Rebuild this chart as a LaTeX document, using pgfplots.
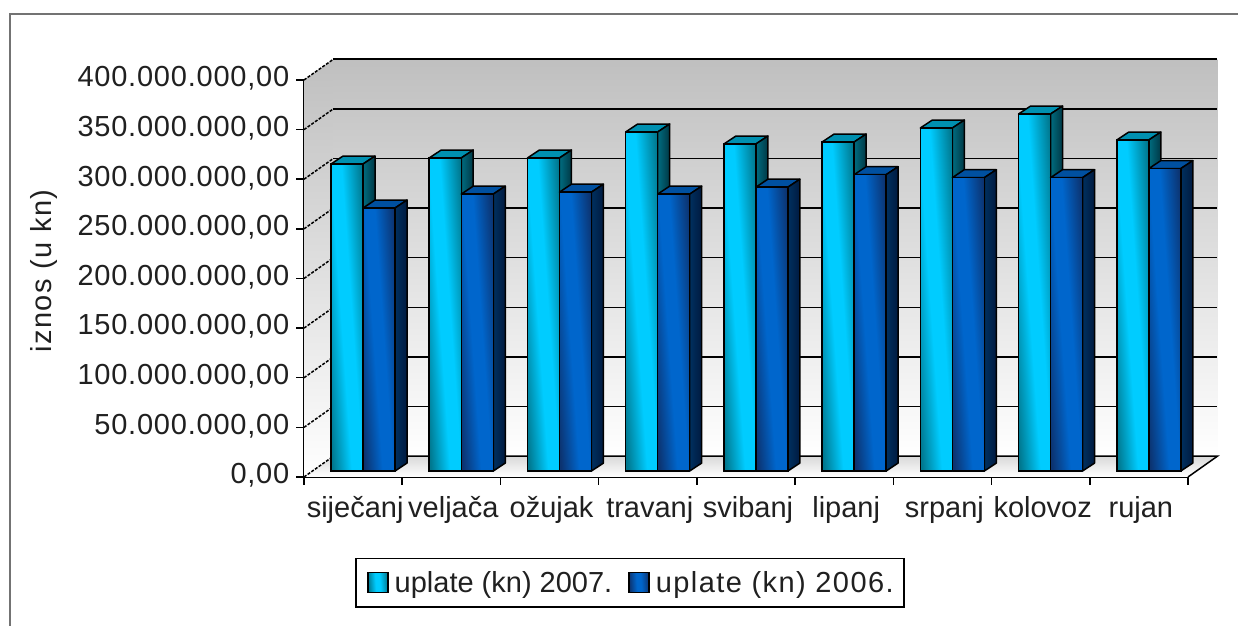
\documentclass[border=0pt]{standalone}
\usepackage{fontspec}
\setmainfont{Liberation Sans}
\usepackage{pgfplots}
\pgfplotsset{compat=1.18}
\definecolor{txt}{HTML}{202020}
\definecolor{cybr}{HTML}{00CCFF}
\definecolor{cydk}{HTML}{00788F}
\definecolor{cytop}{HTML}{0090B0}
\definecolor{cysdA}{HTML}{006C80}
\definecolor{cysdB}{HTML}{003845}
\definecolor{blbr}{HTML}{0066CC}
\definecolor{bldk}{HTML}{0C3370}
\definecolor{bltop}{HTML}{0050A0}
\definecolor{blsdA}{HTML}{00305F}
\definecolor{blsdB}{HTML}{001A40}
\pgfdeclareverticalshading{cyanbar}{100bp}{color(0bp)=(cydk);color(25bp)=(cydk);color(45bp)=(cybr);color(56bp)=(cybr);color(75bp)=(cydk);color(100bp)=(cydk)}
\pgfdeclareverticalshading{bluebar}{100bp}{color(0bp)=(bldk);color(25bp)=(bldk);color(45bp)=(blbr);color(56bp)=(blbr);color(75bp)=(bldk);color(100bp)=(bldk)}
\newcommand{\lblfont}{\fontsize{29}{34}\selectfont\color{txt}}
\newcommand{\lblfontsp}[1]{\fontsize{29}{34}\selectfont\addfontfeature{LetterSpace=#1}\color{txt}}
% x of the bar's left edge, value, top colour, side colours, front shading
\newcommand{\barfaces}[6]{%
  \pgfmathsetmacro\xl{#1}%
  \pgfmathsetmacro\xr{#1+0.326}%
  \pgfmathsetmacro\xlb{#1+0.122}%
  \pgfmathsetmacro\xrb{#1+0.448}%
  \pgfmathsetmacro\yb{#2+8}%
  \addplot[forget plot,draw=black,line width=1.5pt,fill=#3,line join=round]
    coordinates {(\xl,#2) (\xr,#2) (\xrb,\yb) (\xlb,\yb)} --cycle;
  \addplot[forget plot,draw=black,line width=1.5pt,top color=#4,bottom color=#5,shading angle=90,line join=round]
    coordinates {(\xr,0) (\xr,#2) (\xrb,\yb) (\xrb,8)} --cycle;
  \addplot[forget plot,draw=black,line width=1.5pt,shade,shading=#6,shading angle=94,line join=round]
    coordinates {(\xl,0) (\xl,#2) (\xr,#2) (\xr,0)} --cycle;
}
\begin{document}
\begin{tikzpicture}[x=1pt,y=1pt]
\path[use as bounding box,fill=white] (0,0) rectangle (1238,626);
\draw[color=black!55,line width=2.5pt] (1238,612) -- (10,612) -- (10,0);
\begin{axis}[
  at={(304pt,149pt)},anchor=south west,
  scale only axis,width=884pt,height=397pt,
  xmin=0,xmax=9,ymin=0,ymax=400,
  clip=false,
  axis lines=left,axis line style={-,black,line width=1.5pt},
  tick align=outside,major tick length=8pt,
  tick style={black,line width=1.5pt},
  xtick={0,1,2,3,4,5,6,7,8,9},
  xticklabels={siječanj,veljača,ožujak,travanj,svibanj,lipanj,srpanj,kolovoz,rujan},
  x tick label as interval,
  ytick={0,50,100,150,200,250,300,350,400},
  yticklabels={{0,00},{50.000.000,00},{100.000.000,00},{150.000.000,00},{200.000.000,00},{250.000.000,00},{300.000.000,00},{350.000.000,00},{400.000.000,00}},
  xticklabel style={font=\lblfont,yshift=-8pt,xshift=2pt,text height=21pt,text depth=6pt},
  yticklabel style={font=\lblfontsp{2.7},inner sep=6.5pt,yshift=1.5pt},
  ylabel={iznos (u kn)},
  ylabel style={font=\lblfontsp{5},at={(rel axis cs:-0.294,0.519)},anchor=center,rotate=0},
]
% walls and floor
\addplot[forget plot,draw=none,top color=black!25,bottom color=white]
  coordinates {(0,0) (0.3,21) (0.3,421) (0,400)} --cycle;
\addplot[forget plot,draw=none,top color=black!25,bottom color=white]
  coordinates {(0.3,21) (9.3,21) (9.3,421) (0.3,421)} --cycle;
\addplot[forget plot,draw=none,top color=black!15,bottom color=white]
  coordinates {(0,0) (9,0) (9.3,21) (0.3,21)} --cycle;
% grid, back wall
\pgfplotsinvokeforeach{71,121,171,221,271,321,371,421}{
  \addplot[forget plot,black,line width=1.5pt] coordinates {(0.3,#1) (9.3,#1)};
}
\addplot[forget plot,black,line width=1.5pt] coordinates {(0.3,21) (9.3,21) (9,0)};
% grid, left wall
\pgfplotsinvokeforeach{0,50,100,150,200,250,300,350,400}{
  \pgfmathsetmacro\yy{#1+21}
  \addplot[forget plot,black,line width=1.5pt,dash pattern=on 3pt off 1.5pt] coordinates {(0,#1) (0.3,\yy)};
}
\end{axis}
\begin{axis}[
  at={(313pt,155pt)},anchor=south west,
  scale only axis,width=884pt,height=397pt,
  xmin=0,xmax=9,ymin=0,ymax=400,
  clip=false,hide axis,
  legend columns=2,
  legend style={at={(rel axis cs:0.3586,-0.2809)},anchor=center,
    draw=black,line width=1.5pt,font=\lblfont,inner xsep=8pt,inner ysep=11pt,
    /tikz/every even column/.append style={column sep=11pt}},
  legend cell align=left,
  legend image code/.code={\path (-3pt,0pt) (24pt,0pt);\draw[#1,line width=1.5pt] (0pt,-10pt) rectangle (20pt,10pt);},
]
\addplot[ybar,bar width=32pt,bar shift=0pt,draw=black,line width=1.5pt,
  shade,shading=cyanbar,shading angle=94]
  coordinates {(0.3463,309.3) (1.3463,315.4) (2.3463,315.4) (3.3463,341.6) (4.3463,329.5) (5.3463,331.5) (6.3463,345.6) (7.3463,359.7) (8.3463,333.5)};
\addlegendentry{uplate (kn) 2007.}
% siječanj ... rujan, uplate 2007.
\barfaces{0.1833}{309.3}{cytop}{cysdA}{cysdB}{cyanbar}
\barfaces{1.1833}{315.4}{cytop}{cysdA}{cysdB}{cyanbar}
\barfaces{2.1833}{315.4}{cytop}{cysdA}{cysdB}{cyanbar}
\barfaces{3.1833}{341.6}{cytop}{cysdA}{cysdB}{cyanbar}
\barfaces{4.1833}{329.5}{cytop}{cysdA}{cysdB}{cyanbar}
\barfaces{5.1833}{331.5}{cytop}{cysdA}{cysdB}{cyanbar}
\barfaces{6.1833}{345.6}{cytop}{cysdA}{cysdB}{cyanbar}
\barfaces{7.1833}{359.7}{cytop}{cysdA}{cysdB}{cyanbar}
\barfaces{8.1833}{333.5}{cytop}{cysdA}{cysdB}{cyanbar}
\addplot[ybar,bar width=32pt,bar shift=0pt,draw=black,line width=1.5pt,
  shade,shading=bluebar,shading angle=94]
  coordinates {(0.6723,265.0) (1.6723,279.0) (2.6723,281.0) (3.6723,279.0) (4.6723,286.0) (5.6723,298.6) (6.6723,295.6) (7.6723,295.6) (8.6723,304.7)};
\addlegendentry{\addfontfeature{LetterSpace=5}uplate (kn) 2006.}
% siječanj ... rujan, uplate 2006.
\barfaces{0.5093}{265.0}{bltop}{blsdA}{blsdB}{bluebar}
\barfaces{1.5093}{279.0}{bltop}{blsdA}{blsdB}{bluebar}
\barfaces{2.5093}{281.0}{bltop}{blsdA}{blsdB}{bluebar}
\barfaces{3.5093}{279.0}{bltop}{blsdA}{blsdB}{bluebar}
\barfaces{4.5093}{286.0}{bltop}{blsdA}{blsdB}{bluebar}
\barfaces{5.5093}{298.6}{bltop}{blsdA}{blsdB}{bluebar}
\barfaces{6.5093}{295.6}{bltop}{blsdA}{blsdB}{bluebar}
\barfaces{7.5093}{295.6}{bltop}{blsdA}{blsdB}{bluebar}
\barfaces{8.5093}{304.7}{bltop}{blsdA}{blsdB}{bluebar}
\end{axis}
\end{tikzpicture}
\end{document}
